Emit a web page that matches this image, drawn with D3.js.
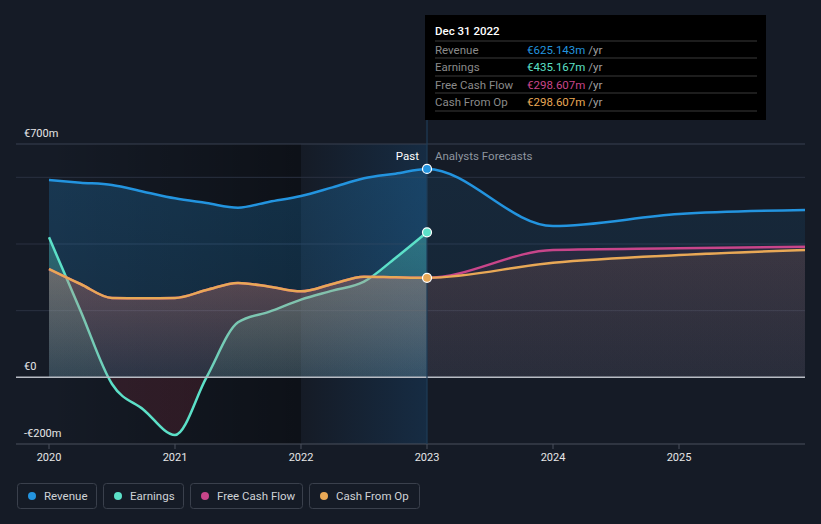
<!DOCTYPE html>
<html><head><meta charset="utf-8">
<script src="https://cdn.jsdelivr.net/npm/d3@7"></script>
<style>body{margin:0;background:#151b26;} svg{display:block;font-family:Roboto,"Noto Sans",sans-serif;}</style>
</head><body><svg id="c" width="821" height="524"></svg>
<script>
// ---- data ----
const pastYears = [2020, 2020.25, 2020.5, 2020.75, 2021, 2021.25, 2021.5, 2021.75, 2022, 2022.25, 2022.5, 2022.75, 2023];
const revenuePast = [592, 584, 577, 557, 537, 523, 509, 527, 544, 570, 597, 611, 625.143];
const earningsPast = [420, 200, -20, -97, -173, 0, 165, 197, 233, 260, 287, 358, 435.167];
const cashFromOpPast = [325, 280, 238, 237, 238, 262, 283, 272, 258, 280, 302, 300, 298.607];
const freeCashFlowPast = [325, 280, 238, 237, 238, 262, 283, 272, 258, 280, 302, 300, 298.607];
const forecastYears = [2023, 2024, 2025, 2026];
const revenueForecast = [625.143, 454, 490, 502];
const freeCashFlowForecast = [298.607, 382, 387, 392];
const cashFromOpForecast = [298.607, 344, 367, 382];
const xTickYears = [2020, 2021, 2022, 2023, 2024, 2025];
const yTickValues = [700, 0, -200];
const yTickLabels = ["€700m", "€0", "-€200m"];
const gridValues = [600, 400, 200];
const seriesNames = ["Revenue", "Earnings", "Free Cash Flow", "Cash From Op"];
const seriesColors = ["#2394df", "#5ce0c8", "#c8458a", "#e8a856"];
const tooltipDate = "Dec 31 2022";
const tooltipValues = ["€625.143m", "€435.167m", "€298.607m", "€298.607m"];

// ---- setup ----
const svg = d3.select("#c");
const W = 821;
const x = d3.scaleLinear().domain([2020, 2026]).range([49, 805]);
const y = d3.scaleLinear().domain([-200, 700]).range([444, 144]);
const defs = svg.append("defs");

function pts(xs, vs) { return xs.map((t, i) => ({ t, v: vs[i] })); }
const revenue = pts(pastYears, revenuePast).concat(pts(forecastYears.slice(1), revenueForecast.slice(1)));
const earnings = pts(pastYears, earningsPast);
const fcf = pts(pastYears, freeCashFlowPast).concat(pts(forecastYears.slice(1), freeCashFlowForecast.slice(1)));
const cfo = pts(pastYears, cashFromOpPast).concat(pts(forecastYears.slice(1), cashFromOpForecast.slice(1)));

const line = d3.line().x(d => x(d.t)).y(d => y(d.v)).curve(d3.curveMonotoneX);
const area = d3.area().x(d => x(d.t)).y0(y(0)).y1(d => y(d.v)).curve(d3.curveMonotoneX);

// background
svg.append("rect").attr("width", W).attr("height", 524).attr("fill", "#151b26");

// gradients
function hGrad(id, x1, x2, stops) {
  const g = defs.append("linearGradient").attr("id", id).attr("gradientUnits", "userSpaceOnUse")
    .attr("x1", x1).attr("x2", x2).attr("y1", 0).attr("y2", 0);
  stops.forEach(s => g.append("stop").attr("offset", s[0]).attr("stop-color", s[1]).attr("stop-opacity", s[2]));
}
function vGrad(id, y1, y2, stops) {
  const g = defs.append("linearGradient").attr("id", id).attr("gradientUnits", "userSpaceOnUse")
    .attr("x1", 0).attr("x2", 0).attr("y1", y1).attr("y2", y2);
  stops.forEach(s => g.append("stop").attr("offset", s[0]).attr("stop-color", s[1]).attr("stop-opacity", s[2]));
}
hGrad("darkPast", x(2020), x(2022), [[0, "#000", 0], [1, "#000", 0.38]]);
hGrad("bluePast", x(2022), x(2023), [[0, "#1a6fb8", 0.0], [1, "#1a6fb8", 0.2]]);

// past shading
svg.append("rect").attr("x", x(2020)).attr("y", y(700)).attr("width", x(2022) - x(2020)).attr("height", y(-200) - y(700)).attr("fill", "url(#darkPast)");
svg.append("rect").attr("x", x(2022)).attr("y", y(700)).attr("width", x(2023) - x(2022)).attr("height", y(-200) - y(700)).attr("fill", "url(#bluePast)");

// grid
svg.append("line").attr("x1", 16).attr("x2", 805).attr("y1", y(700)).attr("y2", y(700)).attr("stroke", "#394050").attr("stroke-width", 1);
gridValues.forEach(v => svg.append("line").attr("x1", 16).attr("x2", 805).attr("y1", y(v)).attr("y2", y(v)).attr("stroke", "#2a3140").attr("stroke-width", 1));

// clip paths
defs.append("clipPath").attr("id", "clipPast").append("rect").attr("x", 0).attr("y", 0).attr("width", x(2023)).attr("height", 524);
defs.append("clipPath").attr("id", "clipFut").append("rect").attr("x", x(2023)).attr("y", 0).attr("width", W).attr("height", 524);

// area gradients
vGrad("gRevP", y(650), y(0), [[0, seriesColors[0], 0.24], [1, seriesColors[0], 0.16]]);
vGrad("gRevF", y(650), y(0), [[0, seriesColors[0], 0.11], [1, seriesColors[0], 0.08]]);
vGrad("gEarn", y(450), y(-200), [[0, seriesColors[1], 0.32], [0.692, seriesColors[1], 0.1], [0.692, "#a03040", 0.2], [1, "#a03040", 0.2]]);
vGrad("gFcfP", y(330), y(0), [[0, seriesColors[2], 0.2], [1, seriesColors[2], 0.06]]);
vGrad("gCfoP", y(330), y(0), [[0, seriesColors[3], 0.2], [1, seriesColors[3], 0.06]]);
vGrad("gFcfF", y(400), y(0), [[0, seriesColors[2], 0.1], [1, seriesColors[2], 0.05]]);
vGrad("gCfoF", y(400), y(0), [[0, seriesColors[3], 0.1], [1, seriesColors[3], 0.05]]);

// revenue area
svg.append("path").attr("d", area(revenue)).attr("fill", "url(#gRevP)").attr("clip-path", "url(#clipPast)");
svg.append("path").attr("d", area(revenue)).attr("fill", "url(#gRevF)").attr("clip-path", "url(#clipFut)");
// earnings
svg.append("path").attr("d", area(earnings)).attr("fill", "url(#gEarn)");
svg.append("path").attr("d", line(earnings)).attr("fill", "none").attr("stroke", seriesColors[1]).attr("stroke-width", 2.5);
// fcf / cfo areas
svg.append("path").attr("d", area(fcf)).attr("fill", "url(#gFcfP)").attr("clip-path", "url(#clipPast)");
svg.append("path").attr("d", area(cfo)).attr("fill", "url(#gCfoP)").attr("clip-path", "url(#clipPast)");
svg.append("path").attr("d", area(fcf)).attr("fill", "url(#gFcfF)").attr("clip-path", "url(#clipFut)");
svg.append("path").attr("d", area(cfo)).attr("fill", "url(#gCfoF)").attr("clip-path", "url(#clipFut)");

// zero line & bottom axis
svg.append("line").attr("x1", 16).attr("x2", 805).attr("y1", y(0)).attr("y2", y(0)).attr("stroke", "#b8bcc4").attr("stroke-width", 1.5);
svg.append("line").attr("x1", 16).attr("x2", 805).attr("y1", y(-200)).attr("y2", y(-200)).attr("stroke", "#4a505c").attr("stroke-width", 1);

// vertical now-line
svg.append("line").attr("x1", x(2023)).attr("x2", x(2023)).attr("y1", 120).attr("y2", y(-200)).attr("stroke", "#1f3d58").attr("stroke-width", 1.2);

// lines
svg.append("path").attr("d", line(fcf)).attr("fill", "none").attr("stroke", seriesColors[2]).attr("stroke-width", 2.5);
svg.append("path").attr("d", line(cfo)).attr("fill", "none").attr("stroke", seriesColors[3]).attr("stroke-width", 2.5);
svg.append("path").attr("d", line(revenue)).attr("fill", "none").attr("stroke", seriesColors[0]).attr("stroke-width", 2.5);

// markers
[[revenuePast, 0], [earningsPast, 1], [cashFromOpPast, 3]].forEach(([arr, i]) => {
  svg.append("circle").attr("cx", x(2023)).attr("cy", y(arr[arr.length - 1])).attr("r", 4.5)
    .attr("fill", seriesColors[i]).attr("stroke", "#fff").attr("stroke-width", 1.2);
});

// y labels
yTickValues.forEach((v, i) => {
  svg.append("text").attr("x", 24).attr("y", y(v) - 7).attr("fill", "#e6e6e6").attr("font-size", 11).text(yTickLabels[i]);
});

// x axis
const xAxisG = svg.append("g");
xTickYears.forEach(t => {
  xAxisG.append("line").attr("x1", x(t)).attr("x2", x(t)).attr("y1", y(-200)).attr("y2", y(-200) + 5).attr("stroke", "#4a505c");
  xAxisG.append("text").attr("x", x(t)).attr("y", 461).attr("text-anchor", "middle").attr("fill", "#e6e6e6").attr("font-size", 11).text(t);
});

// past / forecast labels
svg.append("text").attr("x", x(2023) - 8).attr("y", 160).attr("text-anchor", "end").attr("fill", "#ffffff").attr("font-size", 11.5).text("Past");
svg.append("text").attr("x", x(2023) + 8).attr("y", 160).attr("fill", "#8e959f").attr("font-size", 11.5).text("Analysts Forecasts");

// tooltip
const tt = svg.append("g");
tt.append("rect").attr("x", 425).attr("y", 15).attr("width", 341).attr("height", 105).attr("fill", "#000");
tt.append("text").attr("x", 435).attr("y", 35).attr("fill", "#fff").attr("font-size", 11.5).attr("font-weight", 500).text(tooltipDate);
const sepY = [41, 58, 76, 93, 111];
sepY.forEach(sy => tt.append("line").attr("x1", 435).attr("x2", 757).attr("y1", sy).attr("y2", sy).attr("stroke", "#3a3a3a").attr("stroke-width", 1));
seriesNames.forEach((n, i) => {
  const by = sepY[i] + 12.5;
  tt.append("text").attr("x", 435).attr("y", by).attr("fill", "#8a8a8a").attr("font-size", 11.5).text(n);
  const t = tt.append("text").attr("x", 527).attr("y", by).attr("font-size", 11.5);
  t.append("tspan").attr("fill", seriesColors[i]).text(tooltipValues[i]);
  t.append("tspan").attr("fill", "#a0a0a0").text(" /yr");
});

// legend
const legX = [17, 103, 190, 309];
const legW = [80, 81, 113, 111];
seriesNames.forEach((n, i) => {
  const g = svg.append("g").attr("transform", `translate(${legX[i]},483)`);
  g.append("rect").attr("x", 0.5).attr("y", 0.5).attr("width", legW[i] - 1).attr("height", 25).attr("rx", 3)
    .attr("fill", "none").attr("stroke", "#3a404c");
  g.append("circle").attr("cx", 15).attr("cy", 13).attr("r", 4).attr("fill", seriesColors[i]);
  g.append("text").attr("x", 27).attr("y", 17).attr("fill", "#cfd2d6").attr("font-size", 11.5).text(n);
});
</script></body></html>
